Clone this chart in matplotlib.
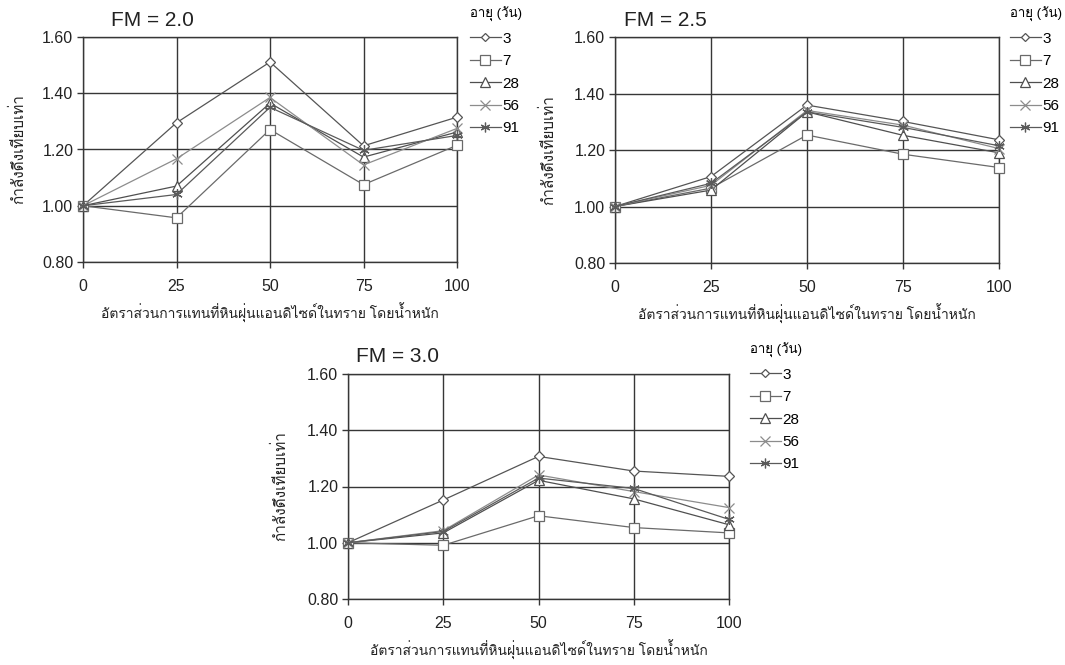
import matplotlib
matplotlib.use("Agg")
import matplotlib.pyplot as plt
from matplotlib import font_manager
from matplotlib.ft2font import FT2Font
from matplotlib.lines import Line2D
from matplotlib.ticker import FormatStrFormatter


# ข้อมูล (อ่านค่าจากกราฟ)
x_pct = [0, 25, 50, 75, 100]
ages = ["3", "7", "28", "56", "91"]

fm20_3 = [1.00, 1.295, 1.511, 1.213, 1.315]
fm20_7 = [1.00, 0.957, 1.271, 1.075, 1.215]
fm20_28 = [1.00, 1.070, 1.365, 1.173, 1.262]
fm20_56 = [1.00, 1.167, 1.385, 1.145, 1.275]
fm20_91 = [1.00, 1.040, 1.350, 1.197, 1.250]

fm25_3 = [1.00, 1.106, 1.359, 1.301, 1.236]
fm25_7 = [1.00, 1.065, 1.253, 1.185, 1.138]
fm25_28 = [1.00, 1.058, 1.335, 1.252, 1.190]
fm25_56 = [1.00, 1.075, 1.340, 1.288, 1.205]
fm25_91 = [1.00, 1.082, 1.335, 1.280, 1.215]

fm30_3 = [1.00, 1.152, 1.307, 1.255, 1.236]
fm30_7 = [1.00, 0.991, 1.096, 1.054, 1.035]
fm30_28 = [1.00, 1.035, 1.222, 1.156, 1.064]
fm30_56 = [1.00, 1.043, 1.241, 1.182, 1.125]
fm30_91 = [1.00, 1.040, 1.230, 1.193, 1.083]

titles = ["FM = 2.0", "FM = 2.5", "FM = 3.0"]
xlabel = "อัตราส่วนการแทนที่หินฝุ่นแอนดิไซด์ในทราย โดยน้ำหนัก"
ylabel = "กำลังดึงเทียบเท่า"
legend_title = "อายุ (วัน)"


def find_thai_font():
    names = []
    for f in font_manager.fontManager.ttflist:
        try:
            cmap = FT2Font(f.fname).get_charmap()
        except Exception:
            continue
        if 0x0E01 in cmap and 0x0E32 in cmap:
            names.append(f.name)
    return names[0] if names else None


thai = find_thai_font()
fams = ["Liberation Sans"]
if thai:
    fams.append(thai)
fams.append("DejaVu Sans")
plt.rcParams["font.family"] = fams

W, H = 1065, 665
fig = plt.figure(figsize=(W / 100, H / 100), dpi=100)

# สไตล์ของแต่ละอายุ
markers = ["D", "s", "^", "x", (6, 2, 0)]
msizes = [5, 7, 7, 7, 7.5]
colors = ["#555555", "#6a6a6a", "#4f4f4f", "#8c8c8c", "#5a5a5a"]


def box(l, t, r, b):
    return [l / W, 1 - b / H, (r - l) / W, (b - t) / H]


def panel(rect, series, title, title_xy, ylab_x, leg_xy):
    ax = fig.add_axes(rect)
    for i, ys in enumerate(series):
        ax.plot(x_pct, ys, color=colors[i], lw=0.9, marker=markers[i],
                ms=msizes[i], mfc="white", mec=colors[i], mew=0.9,
                clip_on=False, zorder=3)
    ax.set_xlim(0, 100)
    ax.set_ylim(0.8, 1.6)
    ax.set_xticks(x_pct)
    ax.set_yticks([0.8, 1.0, 1.2, 1.4, 1.6])
    ax.yaxis.set_major_formatter(FormatStrFormatter("%.2f"))
    ax.grid(True, color="#363636", lw=1.0)
    for s in ax.spines.values():
        s.set_color("#363636")
        s.set_linewidth(1.0)
    ax.tick_params(axis="both", colors="#363636", labelcolor="#222222",
                   labelsize=11.5, width=1.0)
    ax.tick_params(axis="x", length=4, pad=8)
    ax.tick_params(axis="y", length=4, pad=3)
    ax.set_xlabel(xlabel, fontsize=10, color="#222222", labelpad=7)
    fig.text(title_xy[0] / W, 1 - title_xy[1] / H, title, fontsize=15,
             color="#222222", ha="left", va="center")
    fig.text(ylab_x / W, rect[1] + rect[3] / 2, ylabel, rotation=90,
             fontsize=11, color="#222222", ha="center", va="center")
    handles = [Line2D([], [], color=colors[i], lw=0.9, marker=markers[i],
                      ms=msizes[i] - 0.5, mfc="white", mec=colors[i], mew=0.9)
               for i in range(len(ages))]
    leg = ax.legend(handles, ages, loc="upper left",
                    bbox_to_anchor=(leg_xy[0] / W, 1 - leg_xy[1] / H),
                    bbox_transform=fig.transFigure, frameon=False,
                    fontsize=11, title=legend_title, title_fontsize=9.5,
                    handlelength=2.0, handletextpad=0.1, labelspacing=0.55,
                    borderpad=0, borderaxespad=0)
    leg._legend_box.align = "left"
    leg._legend_box.sep = 7
    return ax


panel(box(83, 37, 457, 262), [fm20_3, fm20_7, fm20_28, fm20_56, fm20_91],
      titles[0], (111, 21), 18, (470, 7))
panel(box(615, 37, 999, 263), [fm25_3, fm25_7, fm25_28, fm25_56, fm25_91],
      titles[1], (624, 21), 548, (1010, 7))
panel(box(348, 374, 729, 599), [fm30_3, fm30_7, fm30_28, fm30_56, fm30_91],
      titles[2], (356, 357), 280, (750, 343))

fig.savefig("out.png", dpi=100)
